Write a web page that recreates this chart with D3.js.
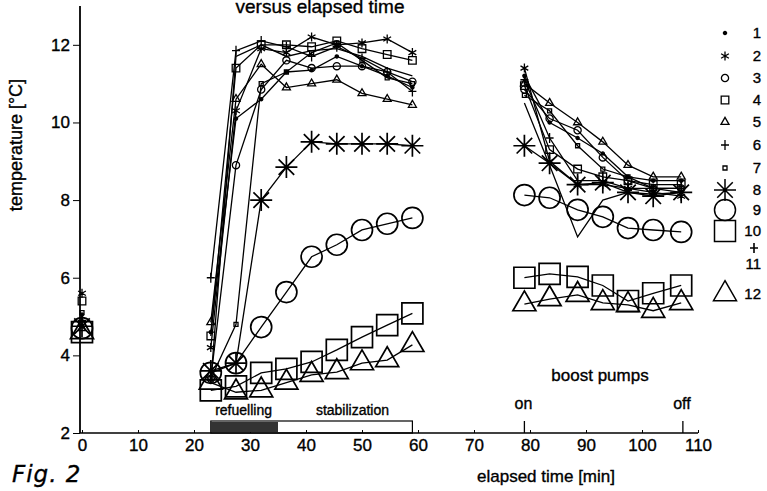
<!DOCTYPE html>
<html>
<head>
<meta charset="utf-8">
<script src="https://cdn.jsdelivr.net/npm/d3@7"></script>
<style>
	body { margin: 0; background: #fff; }
	svg { display: block; font-family: "Liberation Sans", Arial, sans-serif; }
	svg text { stroke: #000; stroke-width: 0.35px; }
	.tick text { font-size: 17px; }
</style>
</head>
<body>
<svg id="chart" width="767" height="491"></svg>
<script>
// time points (minutes)
const tInit = [0];
const tRefuel = [23, 27.5, 32, 36.5, 41, 45.5, 50, 54.5, 59];
const tBoost = [79, 83.5, 88.5, 93, 97.5, 102, 107];

const seriesNames = ["1", "2", "3", "4", "5", "6", "7", "8", "9", "10", "11", "12"];
const seriesMarkers = ["dot", "star6", "circle", "square", "triangle", "plus", "tinySquare",
	"bigStar", "bigCircle", "bigSquare", "none", "bigTriangle"];

// temperature [°C] at t = 0
const initTemps = [5.05, 5.6, 4.8, 5.4, 4.7, 4.9, 5.1, 4.75, 4.7, 4.6, 4.8, 4.6];

// temperature during refuelling / stabilization
const refuelTemps = [
	[4.6, 10.1, 10.6, 11.3, 11.35, 11.7, 11.45, 11.2, 10.9],
	[4.2, 10.3, 11.9, 11.8, 12.2, 12.0, 12.05, 12.15, 11.8],
	[3.4, 8.9, 10.85, 11.6, 11.4, 11.45, 11.45, 11.3, 11.05],
	[4.5, 11.4, 12.0, 12.0, 11.95, 12.1, 11.9, 11.75, 11.6],
	[4.85, 10.6, 11.5, 10.9, 11.0, 11.1, 10.75, 10.6, 10.45],
	[6.0, 11.85, 12.1, 11.95, 11.7, 11.95, 11.65, 11.3, 10.8],
	[3.4, 4.8, 11.0, 11.3, 11.8, 12.05, 11.6, 11.15, 11.0],
	[3.6, 3.8, 8.0, 8.85, 9.5, 9.45, 9.45, 9.45, 9.4],
	[3.55, 3.8, 4.73, 5.63, 6.54, 6.85, 7.23, 7.39, 7.54],
	[3.1, 3.2, 3.55, 3.65, 3.83, 4.14, 4.47, 4.78, 5.08],
	[3.3, 11.7, 12.0, 11.7, 11.85, 11.9, 11.7, 11.4, 11.2],
	[3.3, 3.05, 3.1, 3.3, 3.5, 3.57, 3.8, 3.88, 4.27]
];

// temperature with boost pumps running
const boostTemps = [
	[11.2, 10.0, 9.6, 9.2, 8.6, 8.5, 8.5],
	[11.4, 9.0, 8.4, 8.4, 8.3, 8.2, 8.1],
	[10.85, 10.1, 9.8, 9.1, 8.5, 8.3, 8.3],
	[10.95, 9.3, 8.8, 8.6, 8.5, 8.4, 8.4],
	[11.0, 10.5, 10.0, 9.5, 8.9, 8.6, 8.6],
	[11.1, 9.6, 8.5, 8.5, 8.3, 8.3, 8.2],
	[10.7, 10.3, 9.4, 8.8, 8.6, 8.3, 8.3],
	[9.4, 8.95, 8.4, 8.45, 8.2, 8.1, 8.2],
	[8.13, 8.06, 7.75, 7.57, 7.28, 7.23, 7.18],
	[6.0, 6.1, 6.02, 5.8, 5.4, 5.6, 5.8],
	[10.5, 8.9, 7.05, 8.0, 8.2, 8.15, 8.2],
	[5.32, 5.45, 5.56, 5.35, 5.3, 5.15, 5.35]
];

const xTicks = [0, 10, 20, 30, 40, 50, 60, 70, 80, 90, 100, 110];
const yTicks = [2, 4, 6, 8, 10, 12];

const svg = d3.select('#chart');

const xScale = d3.scaleLinear().domain([0, 110]).range([82, 698]);
const yScale = d3.scaleLinear().domain([2, 13]).range([433, 6]);

// marker shapes, centred on 0,0
function markerPath(kind) {
	const p = d3.path();
	const star = (s, arms) => {
		for (let i = 0; i < arms; i++) {
			const a = Math.PI / 2 + i * 2 * Math.PI / arms;
			p.moveTo(0, 0);
			p.lineTo(s * Math.cos(a), -s * Math.sin(a));
		}
	};
	const tri = (s) => {
		const h = s * Math.sqrt(3) / 2;
		p.moveTo(0, -h * 2 / 3);
		p.lineTo(s / 2, h / 3);
		p.lineTo(-s / 2, h / 3);
		p.closePath();
	};
	switch (kind) {
		case 'dot': p.arc(0, 0, 1.6, 0, 2 * Math.PI); break;
		case 'star6': star(4.5, 6); break;
		case 'circle': p.arc(0, 0, 3.6, 0, 2 * Math.PI); break;
		case 'square': p.rect(-3.8, -3.8, 7.6, 7.6); break;
		case 'triangle': tri(8); break;
		case 'plus': p.moveTo(0, -5); p.lineTo(0, 5); p.moveTo(-4, 0); p.lineTo(4, 0); break;
		case 'tinySquare': p.rect(-2, -2, 4, 4); break;
		case 'bigStar': star(11, 8); break;
		case 'bigCircle': p.arc(0, 0, 10.5, 0, 2 * Math.PI); break;
		case 'bigSquare': p.rect(-10.5, -10.5, 21, 21); break;
		case 'bigTriangle': tri(23); break;
	}
	return p.toString();
}

// title (cut by the top edge, as in the scan)
svg.append('text')
	.attr('x', 320)
	.attr('y', 13)
	.attr('text-anchor', 'middle')
	.style('font-size', '19px')
	.text('versus elapsed time');

// axes
const yAxis = d3.axisLeft(yScale).tickValues(yTicks).tickSize(7).tickPadding(3).tickFormat(d3.format('d'));
const xAxis = d3.axisBottom(xScale).tickValues(xTicks).tickSize(-3).tickPadding(6).tickFormat(d3.format('d'));

svg.append('g')
	.attr('id', 'y-axis')
	.attr('transform', 'translate(' + 80 + ', 0)')
	.call(yAxis)
	.call(g => g.select('.domain').attr('d', 'M0,' + yScale(2) + 'V' + yScale(13)).attr('stroke-width', 1.8));

svg.append('g')
	.attr('id', 'x-axis')
	.attr('transform', 'translate(0, ' + yScale(2) + ')')
	.call(xAxis)
	.call(g => g.select('.domain').attr('d', 'M80,0H' + xScale(110)).attr('stroke-width', 1.3));

svg.append('text')
	.attr('transform', 'translate(22, 145) rotate(-90)')
	.attr('text-anchor', 'middle')
	.style('font-size', '18px')
	.text('temperature [°C]');

svg.append('text')
	.attr('x', 546)
	.attr('y', 482)
	.attr('text-anchor', 'middle')
	.style('font-size', '17px')
	.text('elapsed time [min]');

svg.append('text')
	.attr('x', 12)
	.attr('y', 482)
	.style('font-family', '"DejaVu Sans", sans-serif')
	.style('font-size', '23px')
	.style('font-style', 'italic')
	.style('letter-spacing', '1px')
	.text('Fig. 2');

// refuelling / stabilization bar
const barTop = yScale(2) - 12;
svg.append('rect')
	.attr('x', xScale(23))
	.attr('y', barTop)
	.attr('width', xScale(59) - xScale(23))
	.attr('height', 12)
	.attr('fill', 'none')
	.attr('stroke', '#000')
	.attr('stroke-width', 1.2);

svg.append('rect')
	.attr('x', xScale(23))
	.attr('y', barTop + 1)
	.attr('width', xScale(35) - xScale(23))
	.attr('height', 10)
	.attr('fill', '#333');

svg.append('text')
	.attr('x', (xScale(23) + xScale(34)) / 2 + 2)
	.attr('y', 415)
	.attr('text-anchor', 'middle')
	.style('font-size', '14px')
	.text('refuelling');

svg.append('text')
	.attr('x', xScale(48.3))
	.attr('y', 415)
	.attr('text-anchor', 'middle')
	.style('font-size', '14px')
	.text('stabilization');

// boost pumps
svg.append('text')
	.attr('x', xScale(92.5))
	.attr('y', 381)
	.attr('text-anchor', 'middle')
	.style('font-size', '17px')
	.text('boost pumps');

[[79, 'on'], [107.3, 'off']].forEach(([t, label]) => {
	svg.append('line')
		.attr('x1', xScale(t)).attr('x2', xScale(t))
		.attr('y1', yScale(2) - 12).attr('y2', yScale(2))
		.attr('stroke', '#000')
		.attr('stroke-width', 1.3);
	svg.append('text')
		.attr('x', xScale(t) - 1)
		.attr('y', 409)
		.attr('text-anchor', 'middle')
		.style('font-size', '16px')
		.text(label);
});

// lines and markers
const line = d3.line()
	.x(d => xScale(d[0]))
	.y(d => yScale(d[1]));

seriesNames.forEach((name, i) => {
	const segments = [
		tInit.map(t => [t, initTemps[i]]),
		tRefuel.map((t, j) => [t, refuelTemps[i][j]]),
		tBoost.map((t, j) => [t, boostTemps[i][j]])
	];

	segments.forEach(seg => {
		svg.append('path')
			.datum(seg)
			.attr('fill', 'none')
			.attr('stroke', '#000')
			.attr('stroke-width', 1.3)
			.attr('d', line);
	});

	const kind = seriesMarkers[i];
	if (kind === 'none') return;
	const filled = kind === 'dot';
	const big = kind.startsWith('big');

	svg.append('g')
		.selectAll('path')
		.data(segments.flat())
		.enter()
		.append('path')
		.attr('transform', d => `translate(${xScale(d[0])},${yScale(d[1])})`)
		.attr('d', markerPath(kind))
		.attr('fill', filled ? '#000' : 'none')
		.attr('stroke', '#000')
		.attr('stroke-width', big ? 1.7 : 1.3);
});

// legend
const legendY = [33, 56, 78, 100, 122, 145, 168, 190, 210, 231, 264, 294];
seriesNames.forEach((name, i) => {
	const kind = seriesMarkers[i];
	const g = svg.append('g').attr('class', 'legend');
	if (kind === 'none') {
		g.append('path')
			.attr('transform', `translate(754, ${legendY[i] - 16})`)
			.attr('d', markerPath('plus'))
			.attr('stroke', '#000')
			.attr('stroke-width', 1.6);
	} else {
		g.append('path')
			.attr('transform', `translate(725, ${legendY[i]})`)
			.attr('d', markerPath(kind))
			.attr('fill', kind === 'dot' ? '#000' : 'none')
			.attr('stroke', '#000')
			.attr('stroke-width', kind.startsWith('big') ? 1.5 : 1.3);
	}
	g.append('text')
		.attr('x', 761)
		.attr('y', legendY[i] + 5)
		.attr('text-anchor', 'end')
		.style('font-size', '15px')
		.text(name);
});
</script>
</body>
</html>
